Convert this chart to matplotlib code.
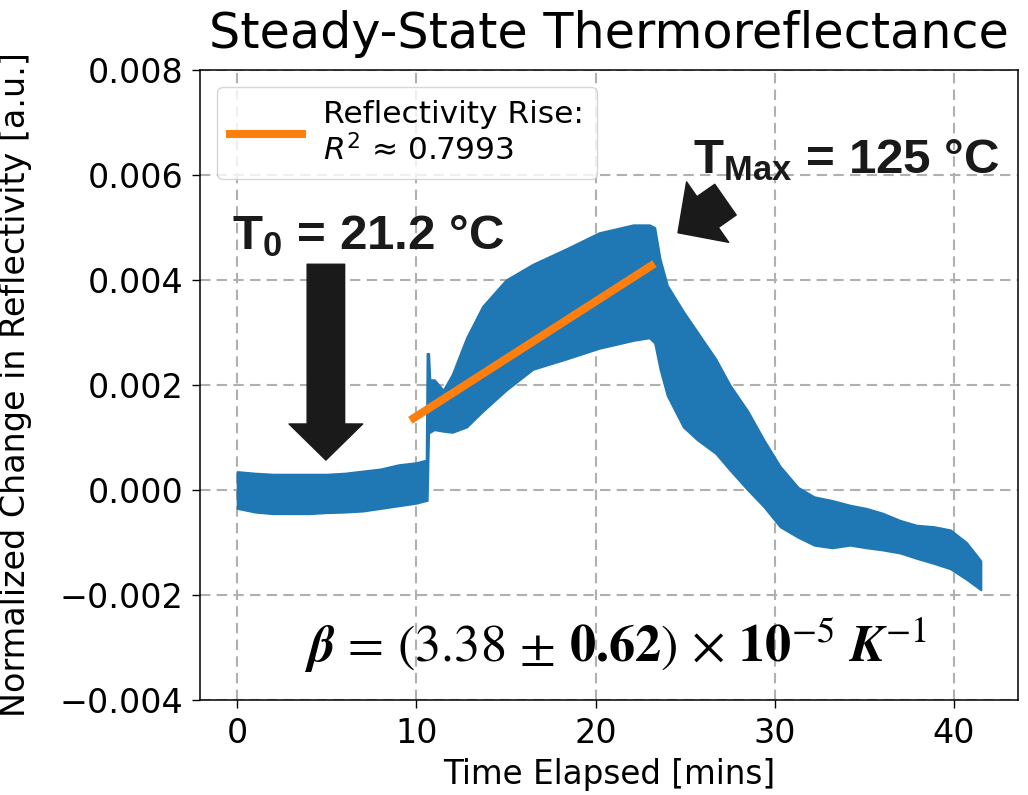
import matplotlib
matplotlib.use("Agg")
import matplotlib.pyplot as plt

# ---------------- data ----------------
time_min = [0.0, 1.0, 2.0, 3.0, 4.0, 5.0, 6.0, 7.0, 8.0, 9.0, 10.0, 10.55,
            10.6, 10.68, 10.75, 11.0, 11.5, 12.0, 12.8, 13.7, 15.0, 16.5,
            18.4, 20.2, 22.1, 23.0, 23.3, 23.6, 24.0, 24.9, 25.7, 26.7,
            27.5, 28.5, 29.4, 30.3, 31.3, 32.2, 33.2, 34.2, 35.1, 36.0,
            37.0, 37.9, 38.9, 39.8, 40.7, 41.5]
upper = [0.00035, 0.00032, 0.00030, 0.00030, 0.00030, 0.00030, 0.00032,
         0.00036, 0.00040, 0.00048, 0.00052, 0.00057,
         0.00260, 0.00260, 0.00210, 0.00210, 0.00190, 0.00220, 0.00290,
         0.00350, 0.00400, 0.00430, 0.00460, 0.00490, 0.00505, 0.00505,
         0.00500, 0.00440, 0.00390, 0.00340, 0.00300, 0.00250, 0.00200,
         0.00150, 0.00095, 0.00045, 0.00005, -0.00013, -0.00020, -0.00029,
         -0.00035, -0.00044, -0.00058, -0.00067, -0.00070, -0.00076,
         -0.00100, -0.00135]
lower = [-0.00035, -0.00042, -0.00045, -0.00045, -0.00045, -0.00043,
         -0.00042, -0.00040, -0.00035, -0.00030, -0.00025, -0.00020,
         -0.00020, 0.00110, 0.00110, 0.00115, 0.00112, 0.00110, 0.00120,
         0.00150, 0.00190, 0.00230, 0.00250, 0.00270, 0.00285, 0.00290,
         0.00280, 0.00230, 0.00180, 0.00120, 0.00095, 0.00070, 0.00038,
         0.00000, -0.00032, -0.00070, -0.00090, -0.00105, -0.00110,
         -0.00105, -0.00110, -0.00114, -0.00120, -0.00130, -0.00140,
         -0.00150, -0.00170, -0.00190]

fit_time = [9.85, 23.1]
fit_value = [0.00137, 0.00427]

x_ticks = [0, 10, 20, 30, 40]
y_ticks = [-0.004, -0.002, 0.000, 0.002, 0.004, 0.006, 0.008]

title = "Steady-State Thermoreflectance"
x_label = "Time Elapsed [mins]"
y_label = "Normalized Change in Reflectivity [a.u.]"
legend_label = "Reflectivity Rise:\n$R^2$ \u2248 0.7993"
t0_text = r"$\mathbf{T_0}$ = 21.2 " + "\u00b0C"
tmax_text = r"$\mathbf{T_{Max}}$ = 125 " + "\u00b0C"
beta_text = (r"$\mathbfit{\beta}\,=\,(3.38\,\pm\,\mathbf{0.62})\,\times\,"
             r"\mathbf{10}^{-5}\ \mathbfit{K}^{-1}$")

# ---------------- style ----------------
plt.rcParams["font.family"] = ["DejaVu Sans"]
plt.rcParams["mathtext.bf"] = "Liberation Sans:bold"
plt.rcParams["mathtext.rm"] = "Liberation Sans"
plt.rcParams["mathtext.it"] = "Liberation Sans:italic"

blue = "#1f77b4"
orange = "#ff7f0e"
dark = "#1a1a1a"

fig = plt.figure(figsize=(10.28, 7.95), dpi=100)
ax = fig.add_axes([200 / 1028, 1 - 700 / 795, 818 / 1028, 630 / 795])

ax.fill_between(time_min, lower, upper, color=blue, lw=1.5,
                edgecolor=blue, zorder=2)
ax.plot(fit_time, fit_value, color=orange, lw=5.8, zorder=3,
        label=legend_label)

ax.set_xlim(-2.075, 43.575)
ax.set_ylim(-0.004, 0.008)
ax.set_xticks(x_ticks)
ax.set_yticks(y_ticks)
ax.grid(True, color="#b0b0b0", linestyle=(0, (5, 3)), lw=1.5, zorder=0)
ax.set_axisbelow(True)
ax.tick_params(labelsize=24, length=6, pad=6, width=1)
for s in ax.spines.values():
    s.set_linewidth(1.1)

ax.set_title(title, fontsize=35.5, pad=16)
ax.set_xlabel(x_label, fontsize=23.5, labelpad=6)
ax.set_ylabel(y_label, fontsize=24, labelpad=20)

leg = ax.legend(loc="upper left", fontsize=22.5, handlelength=2.3,
                handletextpad=0.7, borderaxespad=0.55, framealpha=0.8,
                edgecolor="#cccccc")
for t in leg.get_texts():
    t.set_math_fontfamily("dejavusans")

# annotations
ax.text(-0.28, 0.00459, t0_text, fontsize=35.5, fontweight="bold",
        family="Liberation Sans", color=dark, ha="left", va="baseline",
        math_fontfamily="custom", zorder=5)
ax.text(25.43, 0.00604, tmax_text, fontsize=35.5, fontweight="bold",
        family="Liberation Sans", color=dark, ha="left", va="baseline",
        math_fontfamily="custom", zorder=5)
ax.text(21.1, -0.00328, beta_text, fontsize=37.5, ha="center",
        va="baseline", math_fontfamily="stix", color="black", zorder=5)

arrow_style = "simple,head_length=2.6,head_width=5.3,tail_width=2.7"
ax.annotate("", xy=(4.95, 0.00057), xytext=(4.95, 0.0043),
            arrowprops=dict(arrowstyle=arrow_style, color=dark,
                            shrinkA=0, shrinkB=0, mutation_scale=10),
            zorder=5)
ax.annotate("", xy=(24.6, 0.0049), xytext=(27.25, 0.00553),
            arrowprops=dict(arrowstyle=arrow_style, color=dark,
                            shrinkA=0, shrinkB=0, mutation_scale=10),
            zorder=5)

fig.savefig("out.png", dpi=100)
